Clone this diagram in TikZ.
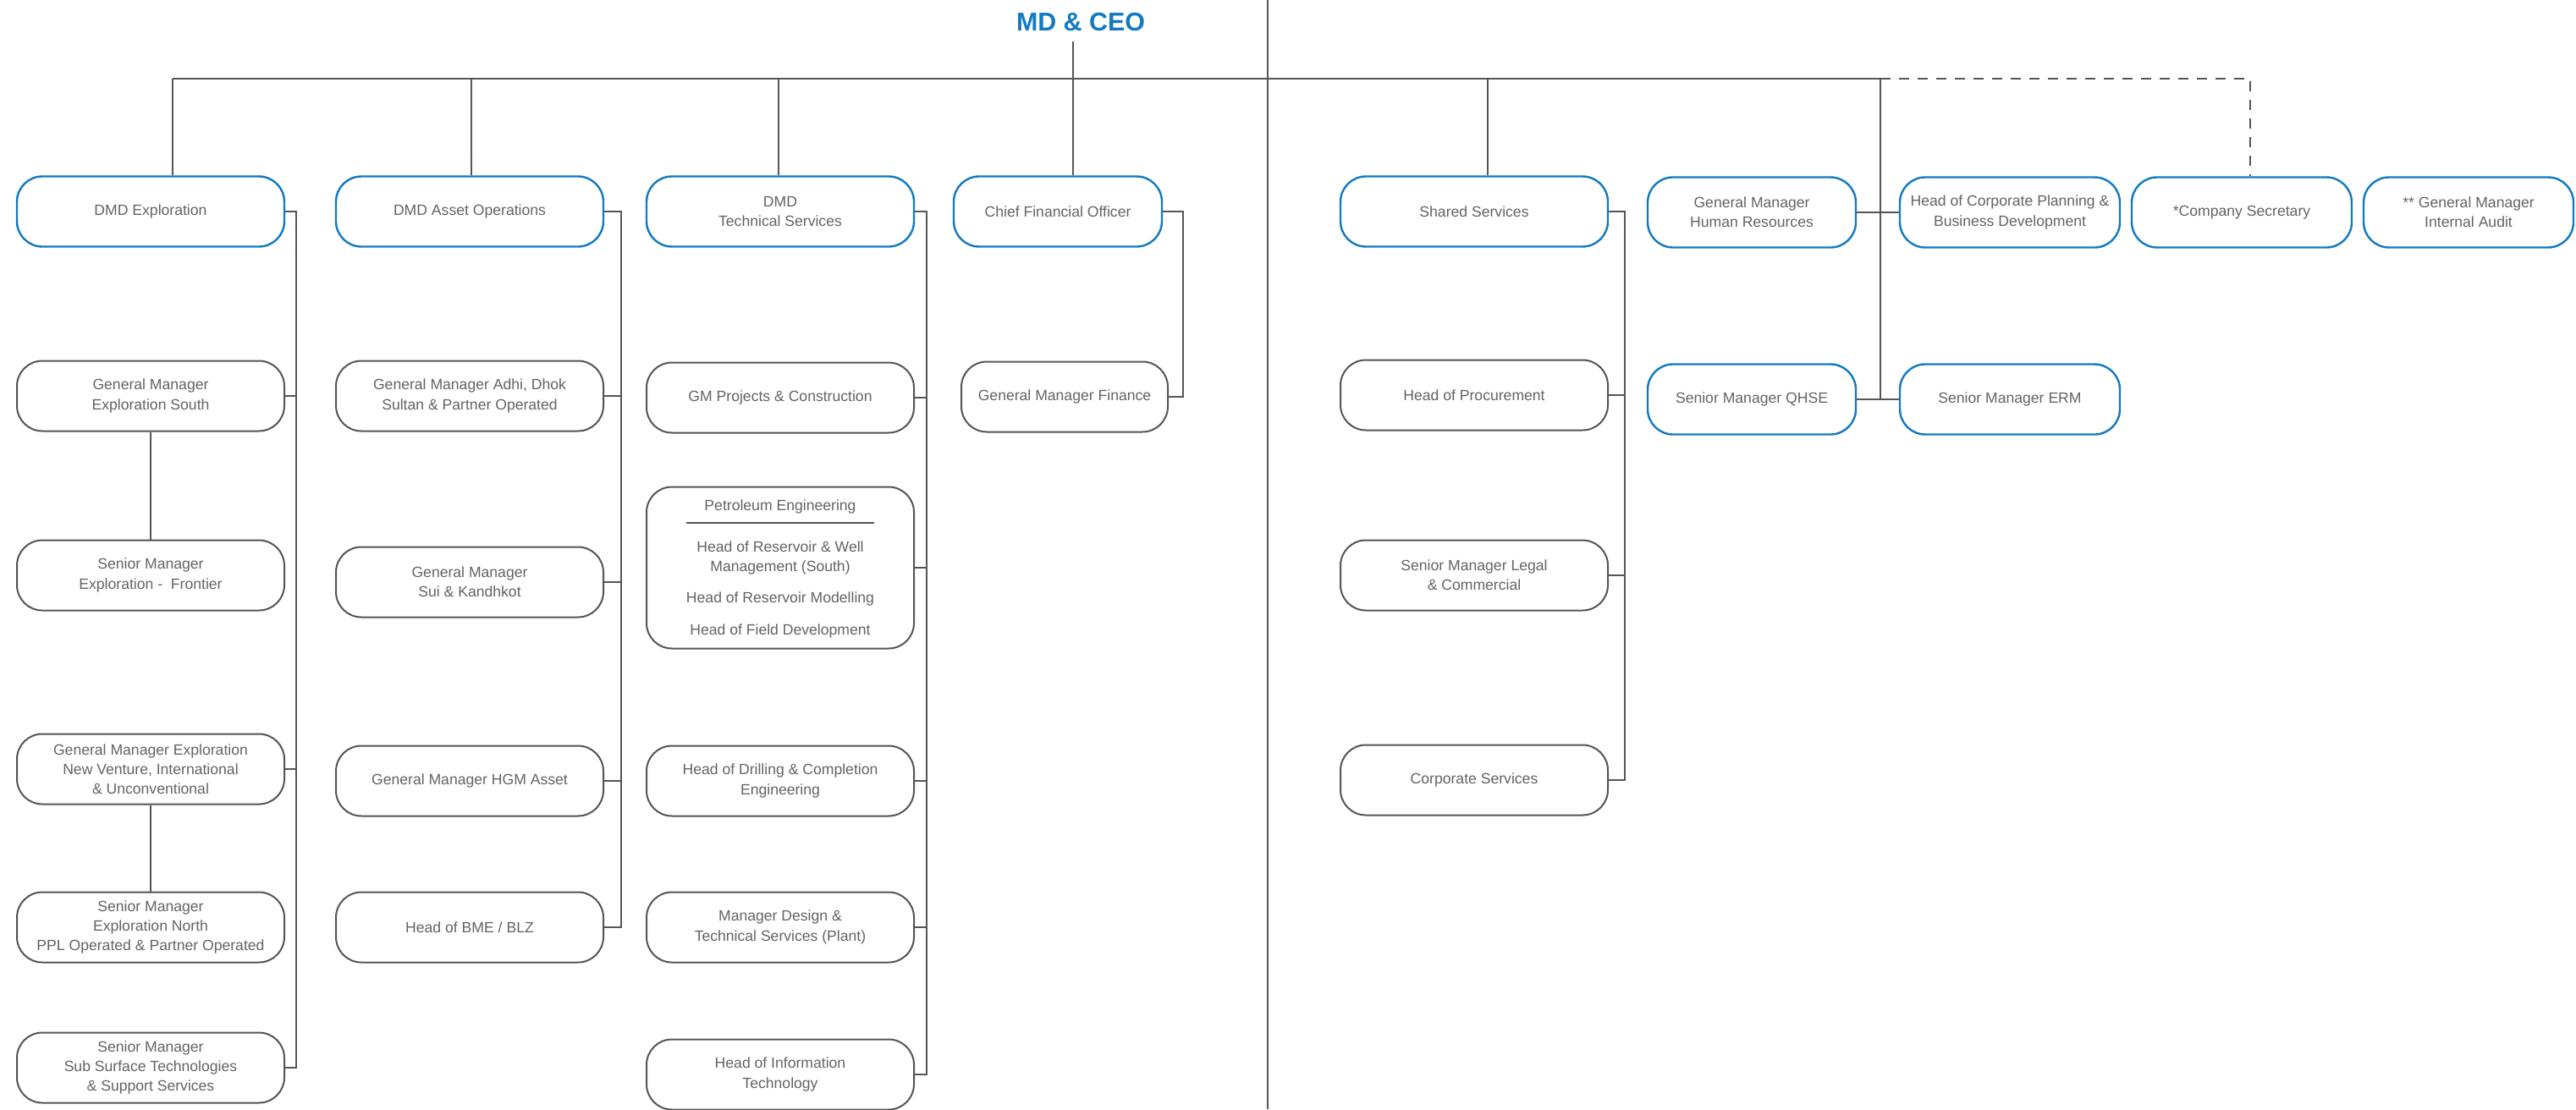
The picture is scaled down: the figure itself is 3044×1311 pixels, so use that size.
\documentclass[tikz,border=0pt]{standalone}
\usepackage{fontspec}
\setmainfont{Liberation Sans}
\usepackage{tikz}
\definecolor{ppblue}{RGB}{18,122,193}
\definecolor{linegray}{RGB}{85,85,87}
\definecolor{textgray}{RGB}{98,99,102}

\begin{document}
\begin{tikzpicture}[x=0.5pt, y=-0.5pt,
  every node/.style={font=\fontsize{8.8}{11.6}\selectfont, text=textgray, align=center},
  box/.style={draw=linegray, line width=1pt, rounded corners=15pt, minimum width=158pt, minimum height=41.5pt, inner sep=2pt},
  topbox/.style={box, draw=ppblue, line width=1.2pt},
  link/.style={draw=linegray, line width=1pt}]
\useasboundingbox (0,0) rectangle (3044,1311);
\draw[linegray, line width=0.7pt] (1498,0) -- (1498,1311);

\node[font=\bfseries\fontsize{15.2}{18}\selectfont, text=ppblue, inner sep=6pt] (ceo) at (1277,26) {MD \& CEO};
\coordinate (t1) at (204,93);
\coordinate (t2) at (557,93);
\coordinate (t3) at (920,93);
\coordinate (t4) at (1268,93);
\coordinate (t5) at (1758,93);
\coordinate (t6) at (2222,93);
\coordinate (t7) at (2659,93);

% exploration
\node[topbox] (dmdexp) at (178,250) {DMD Exploration};
\node[box] (gmsouth) at (178,468) {General Manager\\Exploration South};
\node[box] (smfront) at (178,680) {Senior Manager\\Exploration -\ \ Frontier};
\node[box] (gmnv) at (178,909) {General Manager Exploration\\New Venture, International\\\& Unconventional};
\node[box] (smnorth) at (178,1096) {Senior Manager\\Exploration North\\PPL Operated \& Partner Operated};
\node[box] (smsub) at (178,1262) {Senior Manager\\Sub Surface Technologies\\\& Support Services};

% asset operations
\node[topbox] (dmdasset) at (555,250) {DMD Asset Operations};
\node[box] (gmadhi) at (555,468) {General Manager Adhi, Dhok\\Sultan \& Partner Operated};
\node[box] (gmsui) at (555,688) {General Manager\\Sui \& Kandhkot};
\node[box] (gmhgm) at (555,923) {General Manager HGM Asset};
\node[box] (bme) at (555,1096) {Head of BME / BLZ};

% technical services
\node[topbox] (dmdtech) at (922,250) {DMD\\Technical Services};
\node[box] (gmproj) at (922,470) {GM Projects \& Construction};
\node[box, minimum height=95.5pt] (pe) at (922,671) {};
\node[anchor=base] (pe1) at (922,603) {Petroleum Engineering};
\draw[linegray, line width=0.9pt] ([shift={(-111,15)}]pe1.base) -- ([shift={(111,15)}]pe1.base);
\node[anchor=base] (pe2) at (922,652) {Head of Reservoir \& Well};
\node[anchor=base] (pe3) at (922,675) {Management (South)};
\node[anchor=base] (pe4) at (922,712) {Head of Reservoir Modelling};
\node[anchor=base] (pe5) at (922,750) {Head of Field Development};
\node[box] (drill) at (922,923) {Head of Drilling \& Completion\\Engineering};
\node[box] (design) at (922,1096) {Manager Design \&\\Technical Services (Plant)};
\node[box] (headit) at (922,1270) {Head of Information\\Technology};

% finance
\node[topbox, minimum width=123pt] (cfo) at (1250,250) {Chief Financial Officer};
\node[box, minimum width=122pt] (gmfin) at (1258,469) {General Manager Finance};

% shared services
\node[topbox] (shared) at (1742,250) {Shared Services};
\node[box] (proc) at (1742,467) {Head of Procurement};
\node[box] (legal) at (1742,680) {Senior Manager Legal\\\& Commercial};
\node[box] (corpserv) at (1742,922) {Corporate Services};

% right side
\node[topbox, minimum width=123pt] (hr) at (2070,251) {General Manager\\Human Resources};
\node[topbox, minimum width=123pt] (qhse) at (2070,472) {Senior Manager QHSE};
\node[topbox, minimum width=130pt] (cpbd) at (2375,251) {Head of Corporate Planning \&\\Business Development};
\node[topbox, minimum width=130pt] (erm) at (2375,472) {Senior Manager ERM};
\node[topbox, minimum width=130pt] (cosec) at (2649,251) {*Company Secretary};
\node[topbox, minimum width=124pt] (audit) at (2917,251) {** General Manager\\Internal Audit};

% top line
\draw[link] (ceo.south -| t4) -- (t4);
\draw[link] (t1) -- (t6);
\foreach \c/\n in {t1/dmdexp,t2/dmdasset,t3/dmdtech,t4/cfo,t5/shared}
  \draw[link] (\c) -- (\c |- \n.north);
\draw[link, dash pattern=on 6pt off 5pt] (t6) -- (t7) -- (t7 |- cosec.north);
\draw[link] (t6) -- (t6 |- qhse.east);
\draw[link] (hr.east) -- (cpbd.west);
\draw[link] (qhse.east) -- (erm.west);

% column lines
\draw[link] (dmdexp.east) -- ++(13,0) |- (smsub.east);
\foreach \n in {gmsouth,gmnv}
  \draw[link] (\n.east) -- ++(13,0);
\draw[link] (gmsouth) -- (smfront);
\draw[link] (gmnv) -- (smnorth);
\draw[link] (dmdasset.east) -- ++(20,0) |- (bme.east);
\foreach \n in {gmadhi,gmsui,gmhgm}
  \draw[link] (\n.east) -- ++(20,0);
\draw[link] (dmdtech.east) -- ++(14,0) |- (headit.east);
\foreach \n in {gmproj,pe,drill,design}
  \draw[link] (\n.east) -- ++(14,0);
\draw[link] (cfo.east) -- ++(24,0) |- (gmfin.east);
\draw[link] (shared.east) -- ++(19,0) |- (corpserv.east);
\foreach \n in {proc,legal}
  \draw[link] (\n.east) -- ++(19,0);
\end{tikzpicture}
\end{document}
